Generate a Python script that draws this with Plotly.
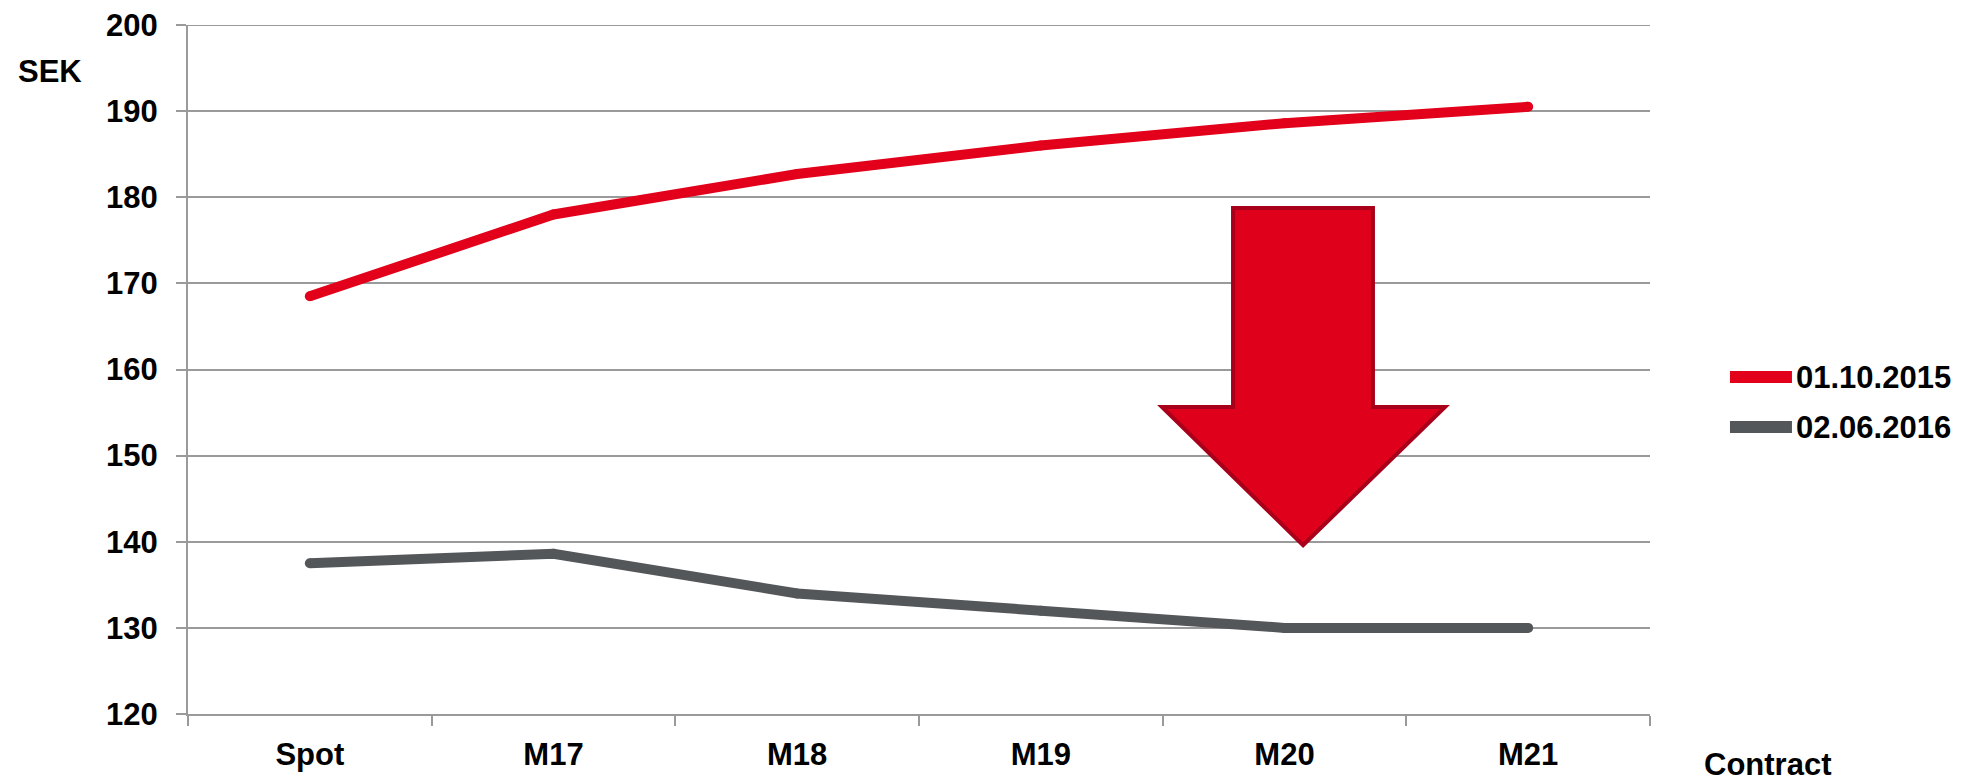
import plotly.graph_objects as go

categories = ["Spot", "M17", "M18", "M19", "M20", "M21"]
series_2015 = [168.5, 178.0, 182.7, 186.0, 188.6, 190.5]
series_2016 = [137.5, 138.6, 134.0, 132.0, 130.0, 130.0]
series_names = ["01.10.2015", "02.06.2016"]
y_ticks = [120, 130, 140, 150, 160, 170, 180, 190, 200]

RED = "#E2001A"
GREY = "#53575A"
GRID = "#9A9A9A"
FONT = "Liberation Sans, Arial, sans-serif"
FS = 31

fig = go.Figure()
for name, vals, col in [(series_names[0], series_2015, RED), (series_names[1], series_2016, GREY)]:
    fig.add_trace(go.Scatter(
        x=categories, y=vals, name=name, mode="lines+markers",
        line=dict(color=col, width=10),
        marker=dict(color=col, size=10, line=dict(width=0)),
        showlegend=False,
    ))

# Top gridline at the max of the y range (plotly drops the edge gridline)
fig.add_shape(type="line", xref="paper", yref="y", x0=0, x1=1, y0=y_ticks[-1], y1=y_ticks[-1],
              line=dict(color=GRID, width=2), layer="below")

# Down arrow (paper x, data y)
xl, xs1, xtip, xs2, xr = 0.6662, 0.7148, 0.7627, 0.8105, 0.8598
y_top, y_neck, y_tip = 178.75, 155.65, 139.6
path = (f"M {xs1},{y_top} L {xs2},{y_top} L {xs2},{y_neck} L {xr},{y_neck} "
        f"L {xtip},{y_tip} L {xl},{y_neck} L {xs1},{y_neck} Z")
fig.add_shape(type="path", path=path, xref="paper", yref="y",
              fillcolor="#DF001B", line=dict(color="#A8001A", width=4), layer="above")

# Custom legend
legend_rows = [(series_names[0], RED, 0.4891), (series_names[1], GREY, 0.4165)]
annotations = [
    dict(text="<b>SEK</b>", x=-0.0944, y=0.932, xref="paper", yref="paper",
         xanchor="center", yanchor="middle",
         showarrow=False, font=dict(size=FS, family=FONT, color="black")),
    dict(text="<b>Contract</b>", x=1.0807, y=-0.074, xref="paper", yref="paper",
         xanchor="center", yanchor="middle",
         showarrow=False, font=dict(size=FS, family=FONT, color="black")),
]
for name, col, yy in legend_rows:
    fig.add_shape(type="line", xref="paper", yref="paper", x0=1.0547, x1=1.0971,
                  y0=yy, y1=yy, line=dict(color=col, width=12))
    annotations.append(dict(text=f"<b>{name}</b>", x=1.0985, y=yy, xref="paper", yref="paper",
                            xanchor="left", yanchor="middle", showarrow=False,
                            font=dict(size=FS, family=FONT, color="black")))

fig.update_layout(
    width=1961, height=779,
    margin=dict(l=180, r=319, t=17, b=73, autoexpand=False),
    paper_bgcolor="white", plot_bgcolor="white",
    font=dict(family=FONT, size=FS, color="black"),
    showlegend=False,
    annotations=annotations,
)
fig.update_xaxes(
    type="category", range=[-0.5, len(categories) - 0.5],
    showgrid=False, showline=True, linecolor=GRID, linewidth=2,
    ticks="outside", tickson="boundaries", ticklen=10, tickcolor=GRID, tickwidth=2,
    tickfont=dict(family=FONT, size=FS, color="black", weight="bold"),
    ticklabelstandoff=12, zeroline=False, automargin=False, ticklabeloverflow="allow",
)
fig.update_yaxes(
    range=[120, 200], tickvals=y_ticks, showgrid=True, gridcolor=GRID, gridwidth=2,
    showline=True, linecolor=GRID, linewidth=2,
    ticks="outside", ticklen=10, tickcolor=GRID, tickwidth=2,
    tickfont=dict(family=FONT, size=FS, color="black", weight="bold"),
    ticklabelstandoff=12, zeroline=False, automargin=False, ticklabeloverflow="allow",
)

fig.write_html("out.html")
